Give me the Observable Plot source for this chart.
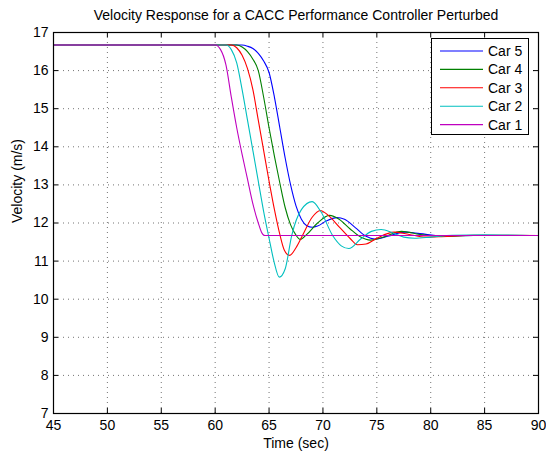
<!DOCTYPE html>
<html>
<head>
<meta charset="utf-8">
<script src="https://cdn.jsdelivr.net/npm/d3@7"></script>
<script src="https://cdn.jsdelivr.net/npm/@observablehq/plot@0.6"></script>
<style>
  html, body { margin: 0; padding: 0; background: #fff; }
  #wrap { position: relative; width: 546px; height: 454px; }
  #legend { position: absolute; left: 431px; top: 38px; width: 98px; height: 97px; box-sizing: border-box;
            border: 1px solid #000; background: #fff; }
</style>
</head>
<body>
<div id="wrap"><div id="chart"></div><div id="legend"></div></div>
<script>
// ---- data ----
const title = "Velocity Response for a CACC Performance Controller Perturbed";
const xLabel = "Time (sec)";
const yLabel = "Velocity (m/s)";
const xTicks = [45, 50, 55, 60, 65, 70, 75, 80, 85, 90];
const yTicks = [7, 8, 9, 10, 11, 12, 13, 14, 15, 16, 17];

const car1Time = [45, 60.0, 60.5, 61.0, 61.5, 62.0, 62.5, 63.0, 63.5, 64.0, 64.3, 64.6, 90];
const car1Vel  = [16.67, 16.67, 16.55, 16.15, 15.3, 14.5, 13.8, 13.15, 12.5, 12.0, 11.76, 11.67, 11.67];

const car2Time = [45, 61.0, 61.5, 62.0, 62.5, 63.0, 63.5, 64.0, 64.5, 65.0, 65.45, 65.95, 66.5, 67.1, 68.0, 69.0, 69.8, 70.9, 71.7, 72.4, 73.5, 74.5, 75.4, 76.5, 77.5, 78.5, 80, 82, 85, 90];
const car2Vel  = [16.67, 16.67, 16.55, 16.2, 15.5, 14.7, 13.9, 13.1, 12.3, 11.6, 11.0, 10.58, 10.8, 11.67, 12.35, 12.56, 12.3, 11.67, 11.4, 11.33, 11.58, 11.78, 11.83, 11.74, 11.63, 11.6, 11.63, 11.68, 11.69, 11.67];

const car3Time = [45, 61.5, 62.0, 62.5, 63.0, 63.5, 64.0, 64.5, 65.0, 65.5, 66.0, 66.4, 66.9, 67.5, 68.1, 69.0, 69.75, 70.5, 71.5, 72.5, 73.2, 74.0, 75.0, 76.6, 78.0, 79.5, 81, 84, 90];
const car3Vel  = [16.67, 16.67, 16.6, 16.4, 16.05, 15.5, 14.7, 13.9, 13.1, 12.35, 11.7, 11.3, 11.15, 11.35, 11.67, 12.15, 12.33, 12.2, 11.9, 11.6, 11.43, 11.45, 11.6, 11.76, 11.7, 11.63, 11.64, 11.68, 11.67];

const car4Time = [45, 62.0, 62.5, 63.0, 63.5, 64.0, 64.5, 65.0, 65.5, 66.0, 66.5, 67.0, 67.5, 67.9, 68.5, 69.5, 70.6, 71.5, 72.5, 73.5, 74.4, 75.5, 77.3, 79, 81, 84, 90];
const car4Vel  = [16.67, 16.67, 16.62, 16.5, 16.3, 16.0, 15.3, 14.5, 13.75, 13.05, 12.4, 11.95, 11.68, 11.57, 11.7, 12.0, 12.2, 12.1, 11.85, 11.63, 11.55, 11.62, 11.78, 11.7, 11.65, 11.67, 11.67];

const car5Time = [45, 62.5, 63.0, 63.5, 64.0, 64.5, 65.0, 65.5, 66.0, 66.5, 67.0, 67.5, 68.0, 68.5, 69.0, 69.5, 70.3, 71.3, 72.0, 73.0, 74.0, 74.8, 76.0, 77.6, 79, 81, 84, 90];
const car5Vel  = [16.67, 16.67, 16.64, 16.58, 16.45, 16.25, 15.95, 15.3, 14.5, 13.7, 13.0, 12.45, 12.1, 11.93, 11.89, 11.92, 12.05, 12.14, 12.1, 11.88, 11.65, 11.58, 11.65, 11.76, 11.72, 11.66, 11.67, 11.67];

// legend / draw order (Car 5 first, Car 1 last = on top)
const seriesNames = ["Car 5", "Car 4", "Car 3", "Car 2", "Car 1"];
const seriesColors = ["#0000ff", "#008000", "#ff0000", "#00bfbf", "#bf00bf"];
const seriesTime = [car5Time, car4Time, car3Time, car2Time, car1Time];
const seriesVel = [car5Vel, car4Vel, car3Vel, car2Vel, car1Vel];

// ---- build ----
const W = 546, H = 454, mL = 53, mR = 8, mT = 32, mB = 41;
const innerW = W - mL - mR, innerH = H - mT - mB;
const font = "'Liberation Sans', Arial, Helvetica, sans-serif";
const FS = 14;

const lineMarks = seriesNames.map((name, i) => {
  const rows = seriesTime[i].map((t, j) => ({t, v: seriesVel[i][j]}));
  return Plot.line(rows, {x: "t", y: "v", stroke: seriesColors[i], strokeWidth: 1.1, curve: "monotone-x"});
});

const gridStyle = {stroke: "#000", strokeOpacity: 0.55, strokeWidth: 1, strokeDasharray: "1,4"};

const chart = Plot.plot({
  width: W, height: H,
  marginLeft: mL, marginRight: mR, marginTop: mT, marginBottom: mB,
  style: {fontFamily: font, fontSize: FS + "px", background: "#fff", color: "#000"},
  x: {domain: [45, 90]},
  y: {domain: [7, 17]},
  marks: [
    Plot.gridX(xTicks.slice(1, -1), gridStyle),
    Plot.gridY(yTicks.slice(1, -1), gridStyle),
    ...lineMarks,
    // inward ticks on all four sides
    Plot.ruleX(xTicks, {x: d => d, stroke: "#000", insetTop: innerH - 5}),
    Plot.ruleX(xTicks, {x: d => d, stroke: "#000", insetBottom: innerH - 5}),
    Plot.ruleY(yTicks, {y: d => d, stroke: "#000", insetRight: innerW - 5}),
    Plot.ruleY(yTicks, {y: d => d, stroke: "#000", insetLeft: innerW - 5}),
    Plot.frame({stroke: "#000", strokeWidth: 1.2}),
    Plot.axisX({ticks: xTicks, tickSize: 0, tickPadding: 7, label: null, fontSize: FS}),
    Plot.axisY({ticks: yTicks, tickSize: 0, tickPadding: 5, label: null, fontSize: FS}),
    Plot.text([title], {text: d => d, frameAnchor: "top", lineAnchor: "middle", dy: -17, fontSize: FS, fill: "#000"}),
    Plot.text([xLabel], {text: d => d, frameAnchor: "bottom", lineAnchor: "middle", dy: 30, fontSize: FS, fill: "#000"}),
    Plot.text([yLabel], {text: d => d, frameAnchor: "left", lineAnchor: "middle", dx: -36, rotate: -90, fontSize: FS, fill: "#000"})
  ]
});
document.getElementById("chart").appendChild(chart);

// legend
const lg = d3.select("#legend").append("svg").attr("width", 96).attr("height", 95)
  .style("display", "block").style("font-family", font).style("font-size", FS + "px");
seriesNames.forEach((name, i) => {
  const y = 12 + i * 18.4;
  lg.append("line").attr("x1", 8).attr("x2", 51).attr("y1", y).attr("y2", y)
    .attr("stroke", seriesColors[i]).attr("stroke-width", 1.1);
  lg.append("text").attr("x", 56).attr("y", y).attr("dy", "0.35em").attr("fill", "#000").text(name);
});
</script>
</body>
</html>
